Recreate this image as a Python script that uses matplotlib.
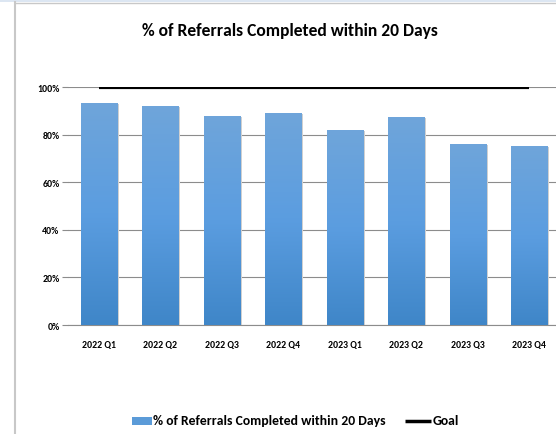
import numpy as np
import matplotlib
matplotlib.use("Agg")
import matplotlib.pyplot as plt
from matplotlib.patches import Rectangle
from matplotlib.lines import Line2D
from matplotlib.colors import LinearSegmentedColormap
from matplotlib import font_manager

categories = ["2022 Q1", "2022 Q2", "2022 Q3", "2022 Q4",
              "2023 Q1", "2023 Q2", "2023 Q3", "2023 Q4"]
pct_completed = [93.4, 92.1, 88.0, 89.2, 82.0, 87.4, 76.1, 75.3]
goal = [100, 100, 100, 100, 100, 100, 100, 100]
yticks = [0, 20, 40, 60, 80, 100]
ytick_labels = ["0%", "20%", "40%", "60%", "80%", "100%"]
title = "% of Referrals Completed within 20 Days"
series_name = "% of Referrals Completed within 20 Days"
goal_name = "Goal"

names = {f.name for f in font_manager.fontManager.ttflist}
fam = "Liberation Sans"
for cand in ["Carlito", "Calibri", "Open Sans Condensed", "Roboto Condensed",
             "PT Sans Narrow", "Archivo Narrow", "Asap Condensed"]:
    if cand in names:
        fam = cand
        break
plt.rcParams['font.family'] = [fam, 'DejaVu Sans']

W, H = 556, 435
fig = plt.figure(figsize=(W / 100, H / 100), dpi=100)

# chart frame
fig.patches.append(Rectangle((0, 1 - 3 / H), 1, 3 / H, transform=fig.transFigure,
                             facecolor="#dce6f2", edgecolor="none", zorder=0))
fig.lines.append(Line2D([15 / W, 15 / W], [0, 1 - 3 / H], transform=fig.transFigure,
                        color="#c8c8c8", lw=1.5))
fig.lines.append(Line2D([15 / W, 1], [1 - 4 / H, 1 - 4 / H], transform=fig.transFigure,
                        color="#c8c8c8", lw=1))

left, right = 68, 560
bottom, top = 326, 88.3
ax = fig.add_axes([left / W, 1 - bottom / H, (right - left) / W, (bottom - top) / H])
ax.set_xlim(-0.5, len(categories) - 0.5)
ax.set_ylim(0, 100)

x = np.arange(len(categories))
bw = 0.59
cmap = LinearSegmentedColormap.from_list("g", ["#3f86c8", "#5b9de0", "#6fa5da"])
grad = np.linspace(0, 1, 256).reshape(-1, 1)
for xi, v in zip(x, pct_completed):
    ax.add_patch(Rectangle((xi - bw / 2 + 0.03, 0), bw, v - 0.3, facecolor="#d0d0d0",
                           edgecolor="none", zorder=2))
    r = Rectangle((xi - bw / 2, 0), bw, v, facecolor="none", edgecolor="none", zorder=3)
    ax.add_patch(r)
    im = ax.imshow(grad, cmap=cmap, aspect="auto", origin="lower",
                   extent=(xi - bw / 2, xi + bw / 2, 0, v), zorder=3)
    im.set_clip_path(r)

ax.plot(x, goal, color="black", lw=3, zorder=4, solid_capstyle="butt")

ax.set_yticks(yticks)
ax.set_yticklabels(ytick_labels, fontsize=7, fontweight="bold")
ax.set_xticks(x)
ax.set_xticklabels(categories, fontsize=7, fontweight="bold")
ax.grid(axis="y", color="#8c8c8c", lw=0.8, zorder=1)
ax.tick_params(axis="y", length=4, color="#8c8c8c", pad=2)
ax.tick_params(axis="x", length=0, pad=11)
for s in ax.spines.values():
    s.set_visible(False)
ax.spines["bottom"].set_visible(True)
ax.spines["bottom"].set_color("#8c8c8c")
ax.set_xlim(-0.5, len(categories) - 0.5)
ax.set_ylim(0, 100)

fig.text(289.5 / W, 1 - 31 / H, title, ha="center", va="center",
         fontsize=12.6, fontweight="bold")

# legend
fig.patches.append(Rectangle((132 / W, 1 - 426 / H), 20 / W, 8 / H, transform=fig.transFigure,
                             facecolor="#5b9bd8", edgecolor="none"))
fig.text(153 / W, 1 - 421.5 / H, series_name, ha="left", va="center",
         fontsize=9.9, fontweight="bold")
fig.lines.append(Line2D([405 / W, 431 / W], [1 - 421.5 / H, 1 - 421.5 / H],
                        transform=fig.transFigure, color="black", lw=2.5,
                        solid_capstyle="butt"))
fig.text(433 / W, 1 - 421.5 / H, goal_name, ha="left", va="center",
         fontsize=9.9, fontweight="bold")

fig.savefig("out.png", dpi=100)
